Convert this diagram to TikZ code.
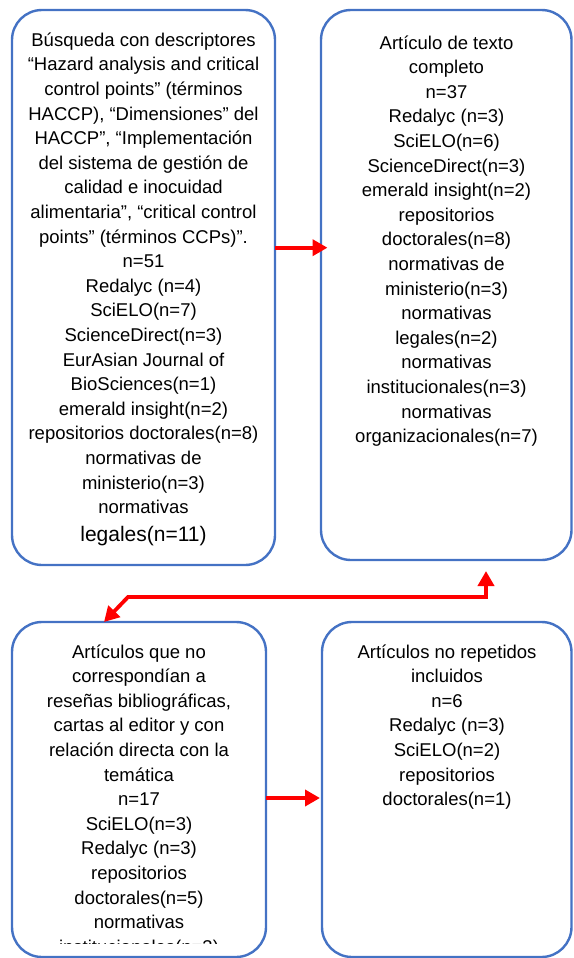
\documentclass[tikz,border=0pt]{standalone}
\usepackage{fontspec}
\setmainfont{Liberation Sans}
\usetikzlibrary{arrows.meta}

\definecolor{azulcaja}{RGB}{68,114,196}
\definecolor{rojoflecha}{RGB}{255,0,0}

\tikzset{
    caja/.style={draw=azulcaja, line width=2.4pt, rounded corners=30pt, inner sep=0pt, outer sep=0pt},
    rotulo/.style={inner sep=0pt, anchor=base, font=\fontsize{18.5}{24.6}\selectfont},
    punta/.tip={Triangle[length=15pt,width=16pt]},
    flecha/.style={draw=rojoflecha, line width=3.8pt, -punta},
    flechadoble/.style={draw=rojoflecha, line width=3.8pt, punta-punta}
}

\begin{document}
\begin{tikzpicture}[x=1pt, y=-1pt]
    % --- 1. Marco del dibujo ---
    \useasboundingbox (0,0) rectangle (573,958);

    % --- 2. Cajas ---
    \node[caja, minimum width=263pt, minimum height=555pt] (busqueda) at (143.5,287.5) {};
    \node[caja, minimum width=250.5pt, minimum height=550pt] (texto) at (446.25,285) {};
    \node[caja, minimum width=254pt, minimum height=335pt] (filtro) at (139,789.5) {};
    \node[caja, minimum width=249.5pt, minimum height=335pt] (incluidos) at (446.75,789.5) {};

    % --- 3. Textos de cada caja ---
    \node[rotulo] (busquedaT) at (143.5,46.3) {\parbox[t]{255pt}{\centering
        Búsqueda con descriptores\\
        “Hazard analysis and critical\\
        control points” (términos\\
        HACCP), “Dimensiones” del\\
        HACCP”, “Implementación\\
        del sistema de gestión de\\
        calidad e inocuidad\\
        alimentaria”, “critical control\\
        points” (términos CCPs)”.\\
        n=51\\
        Redalyc (n=4)\\
        SciELO(n=7)\\
        ScienceDirect(n=3)\\
        EurAsian Journal of\\
        BioSciences(n=1)\\
        emerald insight(n=2)\\
        repositorios doctorales(n=8)\\
        normativas de\\
        ministerio(n=3)\\
        normativas\\[2.7pt]
        {\fontsize{21}{24.6}\selectfont legales(n=11)}}};

    \node[rotulo] (textoT) at (446.5,49) {\parbox[t]{245pt}{\centering
        Artículo de texto\\
        completo\\
        n=37\\
        Redalyc (n=3)\\
        SciELO(n=6)\\
        ScienceDirect(n=3)\\
        emerald insight(n=2)\\
        repositorios\\
        doctorales(n=8)\\
        normativas de\\
        ministerio(n=3)\\
        normativas\\
        legales(n=2)\\
        normativas\\
        institucionales(n=3)\\
        normativas\\
        organizacionales(n=7)}};

    % la última línea queda cortada por el marco del texto
    \begin{scope}
        \clip (0,0) rectangle (573,943.5);
        \node[rotulo] (filtroT) at (139,658) {\parbox[t]{245pt}{\centering
            Artículos que no\\
            correspondían a\\
            reseñas bibliográficas,\\
            cartas al editor y con\\
            relación directa con la\\
            temática\\
            n=17\\
            SciELO(n=3)\\
            Redalyc (n=3)\\
            repositorios\\
            doctorales(n=5)\\
            normativas\\
            institucionales(n=3)}};
    \end{scope}

    \node[rotulo] (incluidosT) at (447,658) {\parbox[t]{245pt}{\centering
        Artículos no repetidos\\
        incluidos\\
        n=6\\
        Redalyc (n=3)\\
        SciELO(n=2)\\
        repositorios\\
        doctorales(n=1)}};

    % --- 4. Flechas ---
    \draw[flecha] ([yshift=39.8pt]busqueda.east) -- ([xshift=6.5pt,yshift=37.3pt]texto.west);
    \draw[flecha] ([yshift=-8.5pt]filtro.east) -- ([xshift=-2pt,yshift=-8.5pt]incluidos.west);

    \coordinate (codoA) at (128,597);
    \coordinate (codoB) at (486,597);
    \draw[flechadoble] ([xshift=-35pt]filtro.north) -- (codoA) -- (codoB) -- ([xshift=39.75pt,yshift=-11pt]texto.south);
\end{tikzpicture}
\end{document}
